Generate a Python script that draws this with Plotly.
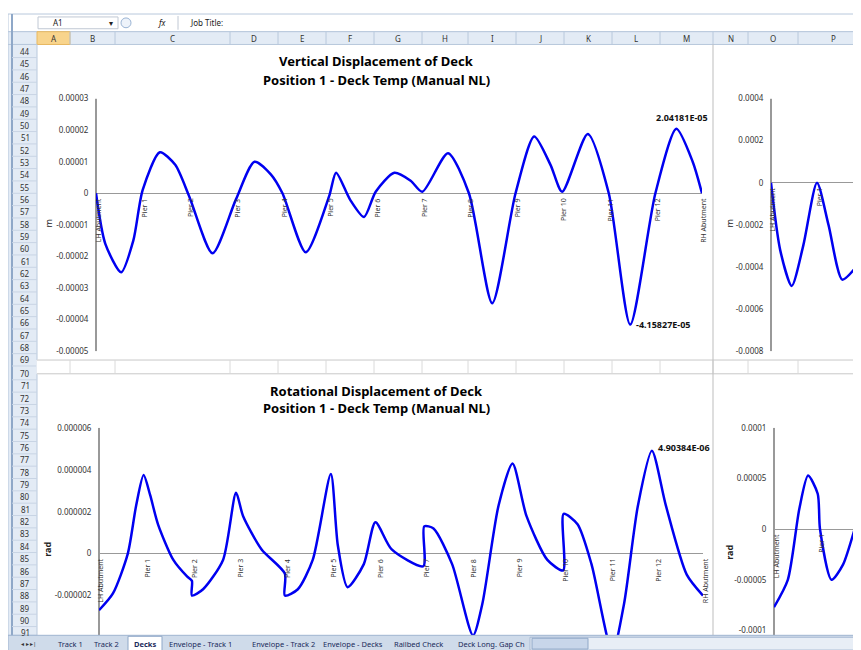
import plotly.graph_objects as go

W, H = 861, 650

# ---- data ----
supports = ["LH Abutment"] + [f"Pier {i}" for i in range(1, 13)] + ["RH Abutment"]

# vertical displacement (m), x in spans from LH abutment
vert_x = [0, 0.2, 0.54, 0.8, 1.0, 1.37, 1.7, 2.0, 2.5, 3.0, 3.4, 3.75, 4.0, 4.5, 5.0, 5.15,
          5.45, 5.75, 6.0, 6.4, 6.75, 7.0, 7.55, 8.0, 8.5, 9.0, 9.4, 9.75, 10.0, 10.55, 11.0,
          11.46, 12.0, 12.45, 12.8, 13.0]
vert_y = [0, -1.6e-5, -2.5e-5, -1.5e-5, 0.1e-5, 1.3e-5, 0.9e-5, -0.1e-5, -1.9e-5, -0.2e-5,
          1.0e-5, 0.6e-5, 0, -1.87e-5, -0.1e-5, 0.65e-5, -0.2e-5, -0.75e-5, 0.05e-5, 0.65e-5,
          0.4e-5, 0.05e-5, 1.27e-5, 0, -3.48e-5, 0, 1.8e-5, 0.9e-5, 0.05e-5, 1.88e-5, 0,
          -4.15827e-5, 0, 2.04181e-5, 1.0e-5, 0]

# rotational displacement (rad)
rot_x = [0, 0.3, 0.62, 0.8, 0.96, 1.1, 1.27, 1.6, 1.9, 2.0, 2.0, 2.24, 2.67, 2.95, 3.1, 3.5,
         4.0, 4.0, 4.28, 4.6, 4.99, 5.14, 5.35, 5.7, 5.95, 6.3, 6.98, 7.0, 7.2, 7.6, 8.05, 8.25,
         8.6, 8.9, 9.2, 9.65, 9.99, 10.0, 10.3, 10.6, 11.05, 11.3, 11.6, 11.9, 12.2, 12.65, 13.0]
rot_y = [-2.7e-6, -1.9e-6, 0, 2.3e-6, 3.75e-6, 2.8e-6, 1.4e-6, -0.3e-6, -1.1e-6, -1.3e-6,
         -2.0e-6, -1.7e-6, -0.3e-6, 2.9e-6, 1.8e-6, 0.2e-6, -0.95e-6, -2.0e-6, -1.7e-6,
         -0.3e-6, 3.8e-6, 0.4e-6, -1.6e-6, -0.5e-6, 1.5e-6, 0.2e-6, -0.6e-6, 1.3e-6, 1.2e-6,
         -0.5e-6, -3.9e-6, -2.4e-6, 2.3e-6, 4.3e-6, 1.8e-6, -0.3e-6, -0.8e-6, 1.9e-6, 1.4e-6,
         -0.5e-6, -4.7e-6, -2.4e-6, 2.3e-6, 4.90384e-6, 2.3e-6, -1.0e-6, -2.0e-6]

# partial charts on the right (next position)
vr_x = [0, 0.2, 0.45, 0.7, 1.0, 1.25, 1.55, 1.85, 2.13]
vr_y = [0, -3.2e-4, -4.9e-4, -3.0e-4, 0, -2.0e-4, -4.6e-4, -4.0e-4, -3.0e-4]
rr_x = [0, 0.3, 0.55, 0.74, 0.95, 1.0, 1.25, 1.5, 1.85, 2.07]
rr_y = [-0.77e-4, -0.5e-4, 0.2e-4, 0.53e-4, 0.35e-4, 0.0, -0.5e-4, -0.35e-4, 0.15e-4, 0.45e-4]

vert_ticks = [3e-5, 2e-5, 1e-5, 0, -1e-5, -2e-5, -3e-5, -4e-5, -5e-5]
vert_ticktext = ["0.00003", "0.00002", "0.00001", "0", "-0.00001", "-0.00002", "-0.00003",
                 "-0.00004", "-0.00005"]
rot_ticks = [6e-6, 4e-6, 2e-6, 0, -2e-6]
rot_ticktext = ["0.000006", "0.000004", "0.000002", "0", "-0.000002"]
vr_ticks = [4e-4, 2e-4, 0, -2e-4, -4e-4, -6e-4, -8e-4]
vr_ticktext = ["0.0004", "0.0002", "0", "-0.0002", "-0.0004", "-0.0006", "-0.0008"]
rr_ticks = [1e-4, 0.5e-4, 0, -0.5e-4, -1e-4]
rr_ticktext = ["0.0001", "0.00005", "0", "-0.00005", "-0.0001"]

col_letters = ["A", "B", "C", "D", "E", "F", "G", "H", "I", "J", "K", "L", "M", "N", "O", "P"]
col_edges = [29, 62, 107, 222, 270, 318, 366, 414, 460, 508, 556, 604, 652, 705, 740, 790, 861]
row_numbers = list(range(44, 92))
sheet_tabs = ["Track 1", "Track 2", "Decks", "Envelope - Track 1", "Envelope - Track 2",
              "Envelope - Decks", "Railbed Check", "Deck Long. Gap Ch"]
tab_x = [63, 98, 137, 192, 275, 345, 410, 483]

FONT = "Noto Sans"
BLUE = "#0000f0"


def px(x):
    return x / W


def py(y):
    return 1 - y / H


def dom_x(a, b):
    return [px(a), px(b)]


def dom_y(top, bottom):
    return [py(bottom), py(top)]


fig = go.Figure()

curves = [(vert_x, vert_y, "x", "y"), (rot_x, rot_y, "x2", "y2"),
          (vr_x, vr_y, "x3", "y3"), (rr_x, rr_y, "x4", "y4")]
for xs, ys, xa, ya in curves:
    fig.add_trace(go.Scatter(x=xs, y=ys, xaxis=xa, yaxis=ya, mode="lines",
                             line=dict(color=BLUE, width=2.5, shape="spline", smoothing=0.7),
                             hoverinfo="skip", showlegend=False))

tickfont = dict(family=FONT, size=8, color="#333")


def yax(dom, rng, vals, text, anchor):
    return dict(domain=dom, range=rng, tickvals=vals, ticktext=text, tickfont=tickfont,
                anchor=anchor, showgrid=False, zeroline=True, zerolinecolor="#999",
                zerolinewidth=1, showline=False, ticks="outside", ticklen=5,
                tickcolor="rgba(0,0,0,0)", fixedrange=True)


def xax(dom, rng, anchor):
    return dict(domain=dom, range=rng, anchor=anchor, showticklabels=False, showgrid=False,
                zeroline=True, zerolinecolor="#999", zerolinewidth=1.5, showline=False,
                fixedrange=True)


fig.update_layout(
    width=W, height=H, margin=dict(l=0, r=0, t=0, b=0),
    paper_bgcolor="white", plot_bgcolor="rgba(0,0,0,0)",
    xaxis=xax(dom_x(88, 694), [0, 13], "y"),
    yaxis=yax(dom_y(86, 343), [-5e-5, 3e-5], vert_ticks, vert_ticktext, "x"),
    xaxis2=xax(dom_x(91, 695), [0, 13], "y2"),
    yaxis2=yax(dom_y(421, 632), [(549 - 632) / 21.3 * 1e-6, 6e-6], rot_ticks, rot_ticktext, "x2"),
    xaxis3=xax(dom_x(763, 861), [0, 98 / 46], "y3"),
    yaxis3=yax(dom_y(86, 343), [-8e-4, 4e-4], vr_ticks, vr_ticktext, "x3"),
    xaxis4=xax(dom_x(766, 861), [0, 95 / 46], "y4"),
    yaxis4=yax(dom_y(421, 632), [-(632 - 522) / 105 * 1e-4, 1e-4], rr_ticks, rr_ticktext, "x4"),
)

shapes = []
ann = []


def rect(x0, y0, x1, y1, fill, line=None, layer="below"):
    shapes.append(dict(type="rect", xref="paper", yref="paper", x0=px(x0), x1=px(x1),
                       y0=py(y1), y1=py(y0), fillcolor=fill, layer=layer,
                       line=dict(color=line or fill, width=1)))


def hline(x0, x1, y, color, layer="below", w=1):
    shapes.append(dict(type="line", xref="paper", yref="paper", x0=px(x0), x1=px(x1),
                       y0=py(y), y1=py(y), line=dict(color=color, width=w), layer=layer))


def vline(x, y0, y1, color, layer="below", w=1):
    shapes.append(dict(type="line", xref="paper", yref="paper", x0=px(x), x1=px(x),
                       y0=py(y0), y1=py(y1), line=dict(color=color, width=w), layer=layer))


def text(x, y, s, size=9, color="#222", bold=False, xanchor="center", angle=0):
    ann.append(dict(xref="paper", yref="paper", x=px(x), y=py(y), text=f"<b>{s}</b>" if bold else s,
                    showarrow=False, xanchor=xanchor, yanchor="middle", textangle=angle,
                    font=dict(family=FONT, size=size, color=color)))


# formula bar
rect(0, 0, W, 18, "#ffffff", "#b8c8dc")
rect(30, 3, 110, 15, "#ffffff", "#c0c8d4")
text(50, 9, "A1", 8)
text(103, 9, "▾", 8)
shapes.append(dict(type="circle", xref="paper", yref="paper", x0=px(113), x1=px(123),
                   y0=py(14), y1=py(4), line=dict(color="#9ab4d4", width=1),
                   fillcolor="#eef3fa", layer="below"))
text(154, 9, "<i>fx</i>", 8)
vline(170, 2, 16, "#c0c8d4")
text(180, 9, "Job Title:", 8, xanchor="left")
# column headers
rect(0, 18, W, 31, "#e3ebf5", "#b8c8dc")
rect(col_edges[0], 18, col_edges[1], 31, "#f8d48c", "#e8b860")
for i, letter in enumerate(col_letters):
    text((col_edges[i] + col_edges[i + 1]) / 2, 25, letter, 8, "#333")
    vline(col_edges[i + 1], 18, 31, "#b8c8dc")
# row headers
rect(0, 31, 29, 632, "#e3ebf5", "#b8c8dc")
vline(4, 0, 650, "#8fa8c8", w=2)
for i, r in enumerate(row_numbers):
    yc = 38 + i * 12.55 + (1.5 if r > 69 else 0)
    if yc > 630:
        break
    text(17, yc, str(r), 8, "#333")
    hline(4, 29, yc + 6.3, "#c8d4e4")
# gap between charts (row 69)
rect(29, 352, W, 366, "#ffffff")
hline(29, W, 352, "#c8c8c8")
hline(29, W, 366, "#c8c8c8")
for e in col_edges[1:]:
    vline(e, 352, 366, "#dadada")
vline(705, 31, 632, "#bdbdbd")
vline(847, 31, 632, "#d0d0d0")
# sheet tab bar
rect(0, 632, W, 650, "#cfdbea", "#9fb4d0", layer="above")
text(20, 641, "◂ ▸ ▸|", 6, "#333")
for name, x in zip(sheet_tabs, tab_x):
    if name == "Decks":
        rect(x - 17, 633, x + 17, 649, "#ffffff", "#8fa8c8", layer="above")
    text(x, 641, name, 7.5, "#1a2a5a", bold=(name == "Decks"))
rect(522, 634, 860, 647, "#e8eef6", "#a8bad4", layer="above")
rect(524, 635, 580, 646, "#c8d6ea", "#90a8c8", layer="above")

# titles
text(368, 48, "Vertical Displacement of Deck", 13, "#000", True)
text(368, 67, "Position 1 - Deck Temp (Manual NL)", 13, "#000", True)
text(368, 383, "Rotational Displacement of Deck", 13, "#000", True)
text(368, 401, "Position 1 - Deck Temp (Manual NL)", 13, "#000", True)
text(40, 213, "m", 9, "#222", angle=-90)
text(40, 545, "rad", 9, "#222", True, angle=-90)
text(721, 213, "m", 9, "#222", angle=-90)
text(722, 548, "rad", 9, "#222", True, angle=-90)
vline(88, 86, 343, "#a0a0a0")
vline(91, 421, 632, "#a0a0a0")
vline(763, 86, 343, "#a0a0a0")
vline(766, 421, 632, "#a0a0a0")

# support labels along zero lines
for xa, ya, labels in [("x", "y", supports), ("x2", "y2", supports),
                       ("x3", "y3", supports[:2]), ("x4", "y4", supports[:2])]:
    for i, s in enumerate(labels):
        ann.append(dict(xref=xa, yref=ya, x=i, y=0, text=s, showarrow=False, textangle=-90,
                        xanchor="center", yanchor="top", yshift=-3, xshift=2,
                        font=dict(family=FONT, size=7, color="#333")))

# data labels at extremes
peak_v = max(vert_y)
low_v = min(vert_y)
peak_r = max(rot_y)
ann.append(dict(xref="x", yref="y", x=vert_x[vert_y.index(peak_v)], y=peak_v,
                text=f"<b>{peak_v:.5E}</b>", showarrow=False,
                yshift=11, xshift=6, font=dict(family=FONT, size=9, color="#111")))
ann.append(dict(xref="x", yref="y", x=vert_x[vert_y.index(low_v)], y=low_v,
                text=f"<b>{low_v:.5E}</b>", showarrow=False, xanchor="left", xshift=4,
                font=dict(family=FONT, size=9, color="#111")))
ann.append(dict(xref="x2", yref="y2", x=rot_x[rot_y.index(peak_r)], y=peak_r,
                text=f"<b>{peak_r:.5E}</b>", showarrow=False, xanchor="left", xshift=4,
                yshift=3, font=dict(family=FONT, size=9, color="#111")))

fig.update_layout(shapes=shapes, annotations=ann)
fig.write_html("out.html")
